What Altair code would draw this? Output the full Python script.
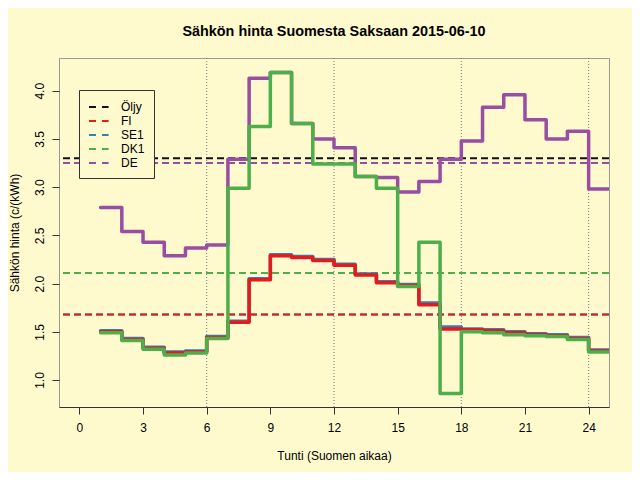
import altair as alt
import pandas as pd

# ---- data ----
hours = list(range(1, 25))
fi = [1.50, 1.42, 1.33, 1.28, 1.29, 1.44, 1.60, 2.04, 2.29, 2.27, 2.24, 2.19,
      2.09, 2.01, 1.98, 1.78, 1.53, 1.52, 1.51, 1.49, 1.47, 1.46, 1.43, 1.30]
se1 = [1.51, 1.43, 1.34, 1.29, 1.30, 1.45, 1.61, 2.05, 2.30, 2.28, 2.25, 2.20,
       2.10, 2.02, 1.99, 1.80, 1.55, 1.53, 1.52, 1.50, 1.48, 1.47, 1.44, 1.31]
dk1 = [1.49, 1.41, 1.32, 1.26, 1.28, 1.43, 2.99, 3.63, 4.19, 3.66, 3.24, 3.24,
       3.11, 2.99, 1.97, 2.43, 0.86, 1.50, 1.49, 1.47, 1.46, 1.45, 1.42, 1.29]
de = [2.79, 2.54, 2.43, 2.29, 2.37, 2.40, 3.29, 4.13, 4.19, 3.66, 3.50, 3.41,
      3.11, 3.10, 2.95, 3.06, 3.29, 3.48, 3.83, 3.96, 3.70, 3.50, 3.58, 2.98]

mean_names = ["Öljy", "FI", "SE1", "DK1", "DE"]
mean_values = [3.30, 1.68, 1.68, 2.11, 3.25]
series_colors = ["#111111", "#E41A1C", "#377EB8", "#4DAF4A", "#984EA3"]

x_ticks = [0, 3, 6, 9, 12, 15, 18, 21, 24]
y_ticks = [1.0, 1.5, 2.0, 2.5, 3.0, 3.5, 4.0]
grid_hours = [6, 12, 18, 24]

title_text = "Sähkön hinta Suomesta Saksaan 2015-06-10"
x_title = "Tunti (Suomen aikaa)"
y_title = "Sähkön hinta (c/(kWh)"

BG = "#FFFACD"
FONT = "Liberation Sans"

# ---- tables ----
def step_df(vals):
    return pd.DataFrame({"hour": hours + [25], "price": vals + [vals[-1]]})

draw_order = ["Öljy", "DE", "DK1", "SE1", "FI"]
means_df = pd.DataFrame({"name": mean_names, "price": mean_values})
means_df["ord"] = means_df["name"].map({n: i for i, n in enumerate(draw_order)})
means_df = means_df.sort_values("ord")
grid_df = pd.DataFrame({"hour": grid_hours})

x_scale = alt.Scale(domain=[-0.96, 24.96], nice=False, zero=False)
y_scale = alt.Scale(domain=[0.72, 4.34], nice=False, zero=False)

x_axis = alt.Axis(values=x_ticks, title=x_title, grid=False, domainColor="#333333",
                  tickColor="#333333", tickSize=7, labelPadding=8, labelFontSize=12,
                  titleFontSize=12, titleFontWeight="normal", labelColor="black",
                  titleColor="black", titlePadding=17, labelFont=FONT, titleFont=FONT,
                  labelFlush=False, labelOverlap=False)
y_axis = alt.Axis(values=y_ticks, format=".1f", title=y_title, grid=False, domain=False,
                  tickColor="#333333", tickSize=7, labelAngle=270, labelAlign="center",
                  labelBaseline="bottom", labelPadding=6, labelFontSize=12,
                  titleFontSize=12, titleFontWeight="normal", labelColor="black",
                  titleColor="black", titlePadding=12, labelFont=FONT, titleFont=FONT,
                  labelFlush=False, labelOverlap=False)

X = alt.X("hour:Q", scale=x_scale, axis=x_axis)
Y = alt.Y("price:Q", scale=y_scale, axis=y_axis)

grid = alt.Chart(grid_df).mark_rule(color="#777777", strokeDash=[1, 2], strokeWidth=1).encode(x=X)

legend = alt.Legend(title=None, orient="none", legendX=20, legendY=32, direction="vertical",
                    symbolType="M-1,0H1.8", symbolSize=196, symbolStrokeWidth=2,
                    symbolDash=[7, 6], labelFontSize=12, labelFont=FONT, labelOffset=17,
                    padding=9, fillColor=BG, strokeColor="#333333", rowPadding=0,
                    labelColor="black")

means = alt.Chart(means_df).mark_rule(strokeDash=[7, 4], strokeWidth=2).encode(
    y=Y,
    color=alt.Color("name:N", scale=alt.Scale(domain=mean_names, range=series_colors),
                    legend=legend),
)

def steps(vals, color):
    return alt.Chart(step_df(vals)).mark_line(
        interpolate="step-after", strokeWidth=3.5, color=color, clip=True,
        strokeCap="round", strokeJoin="round"
    ).encode(x=X, y=Y)

chart = alt.layer(
    grid,
    means,
    steps(de, series_colors[4]),
    steps(se1, series_colors[2]),
    steps(fi, series_colors[1]),
    steps(dk1, series_colors[3]),
).properties(
    width=550,
    height=349,
    title=alt.Title(title_text, fontSize=14.4, fontWeight="bold", font=FONT,
                    anchor="middle", frame="group", baseline="alphabetic",
                    offset=7, color="black"),
    autosize=alt.AutoSizeParams(type="none"),
    padding={"left": 51, "top": 50, "right": 23, "bottom": 65},
).configure(
    background=BG,
).configure_view(
    stroke="#999999", strokeWidth=1,
)

chart.save("out.html", embed_options={"renderer": "svg", "actions": False})
